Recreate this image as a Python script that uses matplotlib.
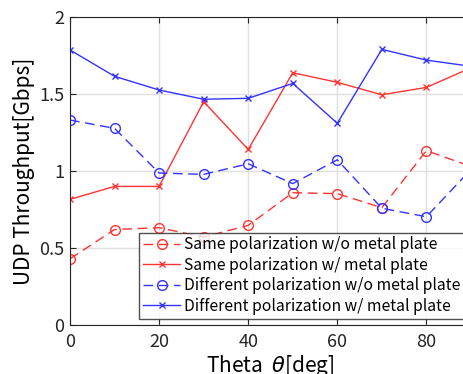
import matplotlib
matplotlib.use('Agg')
import matplotlib.pyplot as plt

plt.rcParams['font.family'] = ['Noto Sans CJK JP', 'DejaVu Sans']

# data
theta = [0, 10, 20, 30, 40, 50, 60, 70, 80, 90]
same_wo = [0.43, 0.62, 0.632, 0.571, 0.647, 0.859, 0.853, 0.762, 1.132, 1.03]
same_w = [0.816, 0.90, 0.90, 1.45, 1.14, 1.638, 1.576, 1.495, 1.543, 1.67]
diff_wo = [1.331, 1.277, 0.987, 0.978, 1.047, 0.918, 1.073, 0.758, 0.703, 1.01]
diff_w = [1.786, 1.615, 1.526, 1.466, 1.472, 1.569, 1.31, 1.79, 1.72, 1.68]

labels = ['Same polarization w/o metal plate',
          'Same polarization w/ metal plate',
          'Different polarization w/o metal plate',
          'Different polarization w/ metal plate']

fig = plt.figure(figsize=(4.63, 3.74), dpi=100)
ax = fig.add_axes([0.1512, 0.131, 0.866, 0.8235])

dash = (0, (7, 4))
ax.plot(theta, same_wo, color='#ff3333', ls=dash, lw=1, marker='o', ms=7,
        mfc='none', mew=1, label=labels[0])
ax.plot(theta, same_w, color='#ff3333', ls='-', lw=1, marker='x', ms=5,
        mew=1, label=labels[1])
ax.plot(theta, diff_wo, color='#3333ff', ls=dash, lw=1, marker='o', ms=7,
        mfc='none', mew=1, label=labels[2])
ax.plot(theta, diff_w, color='#3333ff', ls='-', lw=1, marker='x', ms=5,
        mew=1, label=labels[3])

ax.set_xlim(0, 90)
ax.set_ylim(0, 2)
ax.set_xticks([0, 20, 40, 60, 80])
ax.set_yticks([0, 0.5, 1, 1.5, 2])
ax.set_yticklabels(['0', '0.5', '1', '1.5', '2'])
ax.grid(True, color='#e0e0e0', lw=1)
ax.set_axisbelow(True)
ax.tick_params(direction='in', labelsize=13, colors='#262626', top=True, right=True,
               length=4)
ax.tick_params(axis='x', pad=6)
ax.tick_params(axis='y', pad=4)
for s in ax.spines.values():
    s.set_color('#262626')

ax.set_xlabel(r'Theta  $\theta$[deg]', fontsize=15, labelpad=1)
ax.set_ylabel('UDP Throughput[Gbps]', fontsize=15, labelpad=3)

leg = ax.legend(loc='lower right', fontsize=11.3, frameon=True, fancybox=False,
                edgecolor='#262626', handlelength=2.4, handletextpad=0.25,
                borderpad=0.25, labelspacing=0.22, borderaxespad=0.4)
leg.get_frame().set_linewidth(1)

fig.savefig('out.png', dpi=100)
